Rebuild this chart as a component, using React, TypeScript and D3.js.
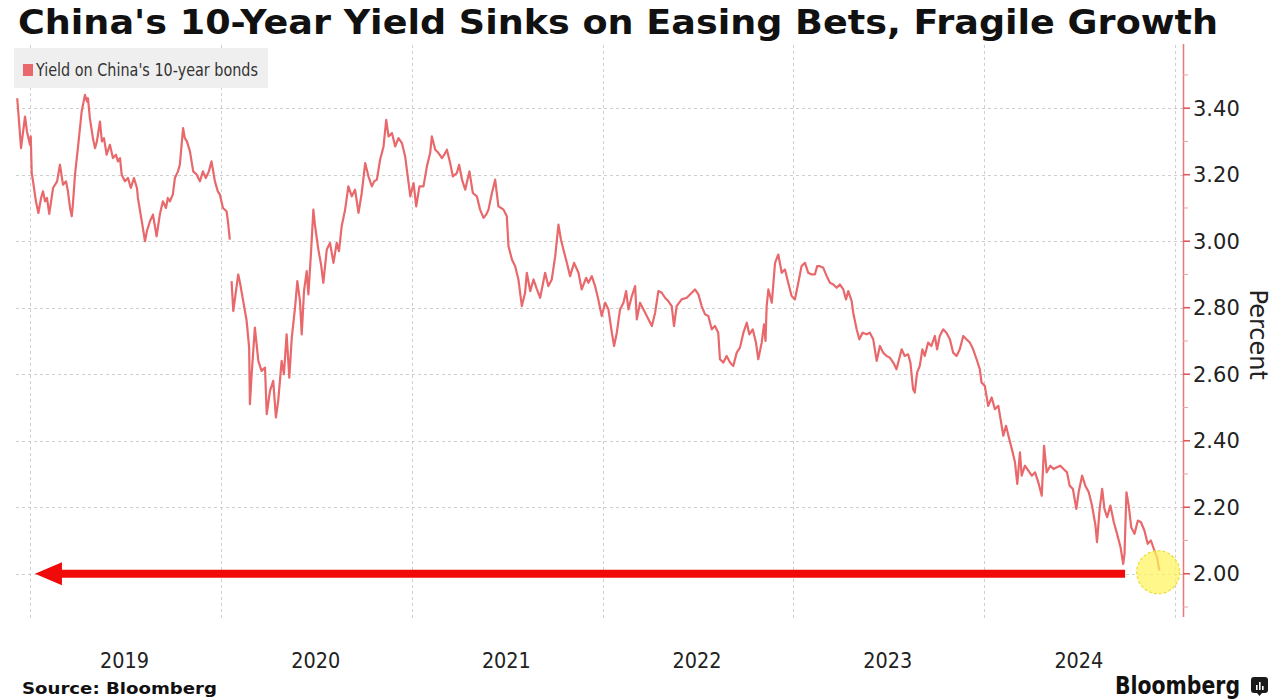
import { useEffect, useRef } from 'react';
import * as d3 from 'd3';

const TITLE = "China's 10-Year Yield Sinks on Easing Bets, Fragile Growth";
const LEGEND = "Yield on China's 10-year bonds";
const SOURCE = 'Source: Bloomberg';
const AXIS_TITLE = 'Percent';

const yearLabels = [2019, 2020, 2021, 2022, 2023, 2024];
const yearGrid = [2019, 2020, 2021, 2022, 2023, 2024, 2025];
const majorTicks = [2.0, 2.2, 2.4, 2.6, 2.8, 3.0, 3.2, 3.4];
const minorTicks = [1.9, 2.1, 2.3, 2.5, 2.7, 2.9, 3.1, 3.3, 3.5];

// decimal year, yield in percent
const yields2019: [number, number][] = [
  [2018.933, 3.43], [2018.953, 3.28], [2018.974, 3.375], [2018.984, 3.33], [2019.0, 3.29], [2019.004, 3.315],
  [2019.009, 3.205], [2019.016, 3.18], [2019.031, 3.12], [2019.044, 3.085], [2019.058, 3.13], [2019.068, 3.15],
  [2019.079, 3.12], [2019.089, 3.13], [2019.101, 3.082], [2019.121, 3.16], [2019.142, 3.18], [2019.157, 3.23],
  [2019.173, 3.17], [2019.189, 3.18], [2019.199, 3.15], [2019.21, 3.1], [2019.219, 3.075], [2019.225, 3.11],
  [2019.236, 3.2], [2019.253, 3.29], [2019.271, 3.39], [2019.278, 3.41], [2019.288, 3.44], [2019.299, 3.42],
  [2019.304, 3.43], [2019.314, 3.37], [2019.33, 3.31], [2019.341, 3.28], [2019.351, 3.3], [2019.367, 3.36],
  [2019.377, 3.3], [2019.388, 3.31], [2019.402, 3.26], [2019.419, 3.29], [2019.435, 3.25], [2019.451, 3.26],
  [2019.461, 3.24], [2019.472, 3.25], [2019.481, 3.2], [2019.498, 3.18], [2019.514, 3.19], [2019.529, 3.16],
  [2019.545, 3.19], [2019.561, 3.16], [2019.566, 3.13], [2019.592, 3.04], [2019.603, 3.0], [2019.613, 3.03],
  [2019.629, 3.06], [2019.645, 3.08], [2019.664, 3.015], [2019.681, 3.08], [2019.697, 3.12], [2019.713, 3.1],
  [2019.723, 3.13], [2019.734, 3.12], [2019.749, 3.14], [2019.76, 3.19], [2019.776, 3.21], [2019.786, 3.23],
  [2019.803, 3.34], [2019.812, 3.31], [2019.823, 3.3], [2019.839, 3.27], [2019.856, 3.21], [2019.875, 3.2],
  [2019.891, 3.18], [2019.907, 3.21], [2019.922, 3.19], [2019.938, 3.21], [2019.952, 3.24], [2019.97, 3.18],
  [2019.985, 3.15], [2019.996, 3.14], [2020.012, 3.1], [2020.031, 3.09], [2020.038, 3.06], [2020.048, 3.005],
];

const yields2020: [number, number][] = [
  [2020.057, 2.88], [2020.066, 2.79], [2020.08, 2.85], [2020.092, 2.9], [2020.101, 2.875], [2020.118, 2.82],
  [2020.136, 2.76], [2020.149, 2.68], [2020.153, 2.51], [2020.162, 2.6], [2020.179, 2.74], [2020.197, 2.64],
  [2020.214, 2.61], [2020.232, 2.62], [2020.241, 2.48], [2020.258, 2.55], [2020.275, 2.58], [2020.289, 2.47],
  [2020.301, 2.52], [2020.319, 2.64], [2020.331, 2.6], [2020.345, 2.72], [2020.359, 2.59], [2020.372, 2.71],
  [2020.389, 2.8], [2020.401, 2.88], [2020.415, 2.82], [2020.424, 2.72], [2020.436, 2.85], [2020.45, 2.91],
  [2020.459, 2.84], [2020.473, 2.97], [2020.485, 3.095], [2020.494, 3.045], [2020.511, 2.975], [2020.525, 2.93],
  [2020.537, 2.875], [2020.555, 2.975], [2020.572, 2.995], [2020.59, 2.935], [2020.607, 2.995], [2020.619, 2.97],
  [2020.633, 3.045], [2020.651, 3.095], [2020.668, 3.165], [2020.686, 3.135], [2020.703, 3.155], [2020.721, 3.085],
  [2020.738, 3.145], [2020.756, 3.235], [2020.773, 3.195], [2020.791, 3.165], [2020.803, 3.18], [2020.817, 3.185],
  [2020.834, 3.245], [2020.852, 3.285], [2020.866, 3.365], [2020.878, 3.315], [2020.896, 3.325], [2020.913, 3.285],
  [2020.93, 3.31], [2020.948, 3.295], [2020.965, 3.255], [2020.983, 3.175], [2020.992, 3.135],
];

const yields2021: [number, number][] = [
  [2021.009, 3.175], [2021.023, 3.105], [2021.04, 3.165], [2021.061, 3.165], [2021.079, 3.225], [2021.096, 3.265],
  [2021.105, 3.315], [2021.123, 3.275], [2021.14, 3.265], [2021.158, 3.25], [2021.17, 3.26], [2021.184, 3.275],
  [2021.201, 3.235], [2021.215, 3.195], [2021.236, 3.205], [2021.248, 3.23], [2021.263, 3.185], [2021.28, 3.155],
  [2021.302, 3.21], [2021.32, 3.145], [2021.341, 3.135], [2021.358, 3.095], [2021.376, 3.07], [2021.39, 3.08],
  [2021.402, 3.095], [2021.42, 3.145], [2021.437, 3.185], [2021.454, 3.105], [2021.481, 3.095], [2021.498, 3.075],
  [2021.507, 2.985], [2021.525, 2.945], [2021.542, 2.925], [2021.559, 2.885], [2021.577, 2.805], [2021.594, 2.845],
  [2021.603, 2.905], [2021.621, 2.85], [2021.638, 2.885], [2021.656, 2.855], [2021.673, 2.83], [2021.699, 2.905],
  [2021.716, 2.865], [2021.734, 2.885], [2021.752, 2.955], [2021.769, 3.05], [2021.782, 3.005], [2021.795, 2.975],
  [2021.813, 2.935], [2021.83, 2.895], [2021.851, 2.935], [2021.874, 2.905], [2021.891, 2.855], [2021.914, 2.89],
  [2021.926, 2.875], [2021.944, 2.895], [2021.961, 2.865], [2021.978, 2.825], [2021.996, 2.775],
];

const yields2022: [number, number][] = [
  [2022.014, 2.815], [2022.031, 2.795], [2022.049, 2.725], [2022.061, 2.685], [2022.075, 2.725], [2022.092, 2.795],
  [2022.11, 2.815], [2022.124, 2.85], [2022.136, 2.795], [2022.154, 2.835], [2022.171, 2.865], [2022.18, 2.765],
  [2022.197, 2.815], [2022.215, 2.795], [2022.241, 2.765], [2022.259, 2.745], [2022.276, 2.785], [2022.293, 2.85],
  [2022.311, 2.845], [2022.328, 2.83], [2022.345, 2.82], [2022.363, 2.805], [2022.375, 2.745], [2022.389, 2.805],
  [2022.415, 2.825], [2022.442, 2.83], [2022.468, 2.845], [2022.485, 2.855], [2022.503, 2.84], [2022.52, 2.805],
  [2022.538, 2.78], [2022.555, 2.775], [2022.573, 2.735], [2022.59, 2.745], [2022.607, 2.725], [2022.616, 2.645],
  [2022.634, 2.635], [2022.651, 2.655], [2022.669, 2.635], [2022.686, 2.625], [2022.704, 2.665], [2022.721, 2.68],
  [2022.739, 2.725], [2022.757, 2.755], [2022.77, 2.72], [2022.788, 2.735], [2022.805, 2.695], [2022.817, 2.645],
  [2022.835, 2.695], [2022.847, 2.75], [2022.855, 2.7], [2022.861, 2.805], [2022.87, 2.855], [2022.888, 2.815],
  [2022.905, 2.935], [2022.922, 2.96], [2022.94, 2.905], [2022.957, 2.915], [2022.974, 2.875], [2022.992, 2.835],
];

const yields2023: [number, number][] = [
  [2023.009, 2.825], [2023.027, 2.875], [2023.044, 2.925], [2023.062, 2.935], [2023.079, 2.905], [2023.097, 2.9],
  [2023.114, 2.9], [2023.126, 2.925], [2023.14, 2.925], [2023.158, 2.92], [2023.176, 2.895], [2023.193, 2.875],
  [2023.211, 2.87], [2023.228, 2.86], [2023.245, 2.87], [2023.263, 2.855], [2023.277, 2.825], [2023.289, 2.85],
  [2023.307, 2.82], [2023.315, 2.785], [2023.333, 2.735], [2023.347, 2.705], [2023.364, 2.725], [2023.385, 2.72],
  [2023.402, 2.725], [2023.42, 2.705], [2023.438, 2.64], [2023.455, 2.685], [2023.472, 2.665], [2023.49, 2.655],
  [2023.507, 2.65], [2023.525, 2.635], [2023.542, 2.615], [2023.56, 2.655], [2023.569, 2.675], [2023.585, 2.655],
  [2023.603, 2.66], [2023.615, 2.635], [2023.629, 2.555], [2023.638, 2.545], [2023.65, 2.605], [2023.664, 2.625],
  [2023.678, 2.675], [2023.69, 2.655], [2023.708, 2.695], [2023.725, 2.685], [2023.743, 2.715], [2023.755, 2.675],
  [2023.769, 2.715], [2023.787, 2.735], [2023.804, 2.725], [2023.822, 2.705], [2023.839, 2.665], [2023.857, 2.655],
  [2023.874, 2.675], [2023.892, 2.715], [2023.909, 2.705], [2023.927, 2.695], [2023.944, 2.675], [2023.962, 2.645],
  [2023.979, 2.615], [2023.988, 2.575],
];

const yields2024: [number, number][] = [
  [2024.005, 2.565], [2024.023, 2.505], [2024.041, 2.53], [2024.058, 2.495], [2024.076, 2.505], [2024.102, 2.415],
  [2024.116, 2.445], [2024.133, 2.405], [2024.151, 2.365], [2024.163, 2.335], [2024.175, 2.27], [2024.189, 2.365],
  [2024.198, 2.295], [2024.215, 2.325], [2024.233, 2.31], [2024.251, 2.295], [2024.268, 2.305], [2024.285, 2.275],
  [2024.303, 2.235], [2024.315, 2.385], [2024.329, 2.305], [2024.348, 2.325], [2024.365, 2.315], [2024.382, 2.32],
  [2024.4, 2.325], [2024.417, 2.315], [2024.435, 2.305], [2024.449, 2.265], [2024.466, 2.255], [2024.484, 2.195],
  [2024.496, 2.245], [2024.514, 2.295], [2024.531, 2.265], [2024.549, 2.245], [2024.566, 2.205], [2024.584, 2.145],
  [2024.592, 2.095], [2024.606, 2.195], [2024.619, 2.255], [2024.631, 2.195], [2024.645, 2.17], [2024.662, 2.205],
  [2024.68, 2.155], [2024.697, 2.12], [2024.715, 2.08], [2024.729, 2.03], [2024.736, 2.06], [2024.746, 2.245],
  [2024.758, 2.205], [2024.771, 2.14], [2024.788, 2.12], [2024.806, 2.16], [2024.822, 2.155], [2024.84, 2.13],
  [2024.857, 2.09], [2024.874, 2.1], [2024.892, 2.07], [2024.906, 2.05], [2024.918, 2.01],
];

// annotation: arrow along the 2% level, highlight on the latest reading
const arrowLevel = 2.0;
const arrowFrom = 2019.026;
const arrowTo = 2024.739;
const highlight: [number, number] = [2024.912, 2.0];

const toDate = (dy: number) => {
  const y = Math.floor(dy);
  const a = new Date(y, 0, 1).getTime();
  const b = new Date(y + 1, 0, 1).getTime();
  return new Date(a + (dy - y) * (b - a));
};

const W = 1284;
const H = 699;
const LINE = '#e8686b';

export default function App() {
  const ref = useRef<SVGSVGElement>(null);

  useEffect(() => {
    const svg = d3.select(ref.current);
    svg.selectAll('*').remove();

    const x = d3.scaleTime().domain([new Date(2019, 0, 1), new Date(2025, 0, 1)]).range([30, 1175]);
    const y = d3.scaleLinear().domain([1.87, 3.59]).range([617, 45]);
    const axisX = 1183;
    const font = '"DejaVu Sans", Verdana, sans-serif';

    // title
    svg.append('text').attr('x', 18).attr('y', 34)
      .attr('font-family', font).attr('font-weight', 'bold').attr('font-size', 33)
      .attr('textLength', 1200).attr('lengthAdjust', 'spacingAndGlyphs')
      .attr('fill', '#111').text(TITLE);

    // grid
    const grid = svg.append('g').attr('stroke', '#cfcfcf').attr('stroke-dasharray', '3,3').attr('stroke-width', 1);
    grid.selectAll('line.h').data(majorTicks).join('line').attr('class', 'h')
      .attr('x1', 16).attr('x2', axisX).attr('y1', d => Math.round(y(d)) + 0.5).attr('y2', d => Math.round(y(d)) + 0.5);
    grid.selectAll('line.v').data(yearGrid).join('line').attr('class', 'v')
      .attr('x1', d => Math.round(x(new Date(d, 0, 1))) + 0.5).attr('x2', d => Math.round(x(new Date(d, 0, 1))) + 0.5)
      .attr('y1', 45).attr('y2', 619);

    // legend
    svg.append('rect').attr('x', 14).attr('y', 48).attr('width', 254).attr('height', 40).attr('fill', '#efefef');
    svg.append('rect').attr('x', 23).attr('y', 64).attr('width', 10).attr('height', 12).attr('fill', LINE);
    svg.append('text').attr('x', 36).attr('y', 76)
      .attr('font-family', font).attr('font-size', 17).attr('fill', '#333')
      .attr('textLength', 222).attr('lengthAdjust', 'spacingAndGlyphs').text(LEGEND);

    // yield line (gap over the 2020 holiday)
    const line = d3.line<[number, number]>().x(d => x(toDate(d[0]))).y(d => y(d[1]));
    const segments = [yields2019, [...yields2020, ...yields2021, ...yields2022, ...yields2023, ...yields2024]];
    svg.append('g').selectAll('path').data(segments).join('path')
      .attr('fill', 'none').attr('stroke', LINE).attr('stroke-width', 2.2).attr('stroke-linejoin', 'round')
      .attr('d', d => line(d));

    // red arrow at 2%
    const ay = y(arrowLevel);
    const ax0 = x(toDate(arrowFrom));
    const ax1 = x(toDate(arrowTo));
    svg.append('line').attr('x1', ax0 + 24).attr('x2', ax1).attr('y1', ay).attr('y2', ay)
      .attr('stroke', '#f00a0a').attr('stroke-width', 8);
    svg.append('path').attr('fill', '#f00a0a')
      .attr('d', `M${ax0},${ay}L${ax0 + 27},${ay - 11.5}L${ax0 + 27},${ay + 11.5}Z`);

    // yellow highlight
    svg.append('circle').attr('cx', x(toDate(highlight[0]))).attr('cy', y(highlight[1]) - 1.5).attr('r', 21.5)
      .attr('fill', '#fff45c').attr('fill-opacity', 0.72)
      .attr('stroke', '#ecdc3a').attr('stroke-dasharray', '3,2').attr('stroke-width', 1.2);

    // right axis
    const ax = svg.append('g').attr('transform', `translate(${axisX},0)`);
    ax.append('line').attr('x1', 0.5).attr('x2', 0.5).attr('y1', 44).attr('y2', 617)
      .attr('stroke', '#e8787a').attr('stroke-width', 1.5);
    ax.selectAll('line.mi').data(minorTicks).join('line').attr('class', 'mi')
      .attr('x1', 0).attr('x2', 5).attr('y1', d => y(d)).attr('y2', d => y(d))
      .attr('stroke', '#e9a3a4').attr('stroke-width', 1);
    ax.selectAll('line.ma').data(majorTicks).join('line').attr('class', 'ma')
      .attr('x1', 0).attr('x2', 7).attr('y1', d => y(d)).attr('y2', d => y(d))
      .attr('stroke', '#e0585b').attr('stroke-width', 1.6);
    ax.selectAll('text').data(majorTicks).join('text')
      .attr('x', 10).attr('y', d => y(d)).attr('dy', '0.36em')
      .attr('font-family', font).attr('font-size', 21).attr('fill', '#222')
      .text(d => d3.format('.2f')(d));
    svg.append('text').attr('transform', `translate(1250,${y(2.8) + 27}) rotate(90)`)
      .attr('text-anchor', 'middle').attr('font-family', font).attr('font-size', 24).attr('fill', '#222')
      .text(AXIS_TITLE);

    // x labels at mid-year
    svg.append('g').selectAll('text').data(yearLabels).join('text')
      .attr('x', d => x(new Date(d, 6, 1))).attr('y', 668).attr('text-anchor', 'middle')
      .attr('font-family', font).attr('font-size', 21).attr('fill', '#222')
      .attr('textLength', 49).attr('lengthAdjust', 'spacingAndGlyphs')
      .text(d => String(d));

    // footer
    svg.append('text').attr('x', 22).attr('y', 694)
      .attr('font-family', font).attr('font-weight', 'bold').attr('font-size', 16).attr('fill', '#111')
      .attr('textLength', 195).attr('lengthAdjust', 'spacingAndGlyphs').text(SOURCE);
    svg.append('text').attr('x', 1115).attr('y', 694)
      .attr('font-family', font).attr('font-weight', 'bold').attr('font-size', 24).attr('fill', '#111')
      .attr('textLength', 125).attr('lengthAdjust', 'spacingAndGlyphs').text('Bloomberg');
    const logo = svg.append('g').attr('transform', 'translate(1251,677)');
    logo.append('rect').attr('width', 17).attr('height', 16).attr('rx', 3).attr('fill', '#1a1a1a');
    logo.append('path').attr('d', 'M6,16L8.5,19L11,16Z').attr('fill', '#1a1a1a');
    [[5, 8], [8, 5], [11, 9]].forEach(([bx, by]) =>
      logo.append('rect').attr('x', bx).attr('y', by).attr('width', 1.6).attr('height', 13 - by).attr('fill', '#fff'));
  }, []);

  return (
    <svg ref={ref} width={W} height={H}
      style={{ position: 'absolute', left: 0, top: 0, background: '#fff', display: 'block' }} />
  );
}
